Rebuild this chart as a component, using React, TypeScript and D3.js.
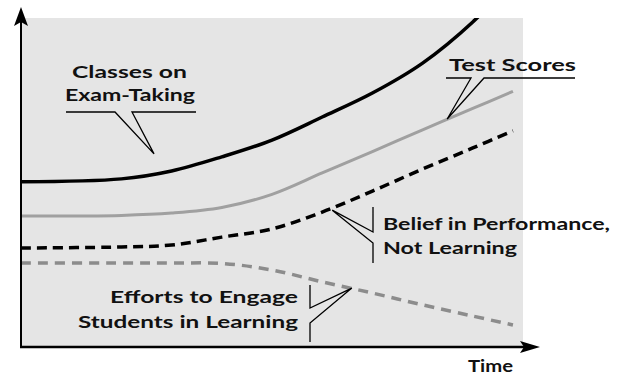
import { useEffect, useRef } from "react";
import * as d3 from "d3";

// time steps (0 = start, 100 = right edge of the shaded area)
const timeSteps = [0, 20, 30, 40, 50, 60, 70, 80, 90, 98];

const classesOnExamTaking = [50.2, 51.1, 53.5, 57.8, 62.9, 69.9, 77.2, 86.3, 98.8, 111.5];
const testScores = [39.8, 40.0, 40.7, 42.4, 46.4, 52.9, 59.4, 66.0, 72.5, 77.7];
const beliefInPerformance = [30.1, 30.4, 31, 33.4, 35.9, 41, 47.4, 54.1, 60.5, 65.7];
const effortsToEngage = [25.5, 25.5, 25.5, 25.4, 23.4, 19.8, 16.4, 12.8, 9.4, 6.7];

const axisLabel = "Time";

export default function App() {
  const svgRef = useRef<SVGSVGElement | null>(null);

  useEffect(() => {
    const svg = d3.select(svgRef.current);
    svg.selectAll("*").remove();

    const width = 623, height = 375;
    const left = 21, right = 523, top = 18, bottom = 347;

    const x = d3.scaleLinear().domain([0, 100]).range([left, right]);
    const y = d3.scaleLinear().domain([0, 100]).range([bottom, top]);

    svg.attr("width", width).attr("height", height);

    svg.append("rect")
      .attr("x", left).attr("y", top)
      .attr("width", right - left).attr("height", bottom - top)
      .attr("fill", "#e5e5e5");

    svg.append("clipPath").attr("id", "plot-clip")
      .append("rect")
      .attr("x", left).attr("y", top)
      .attr("width", right - left + 2).attr("height", bottom - top);

    const line = d3.line<number>()
      .x((_, i) => x(timeSteps[i]))
      .y(d => y(d))
      .curve(d3.curveCatmullRom.alpha(0.5));

    const series = [
      { values: effortsToEngage, color: "#8c8c8c", width: 3.5, dash: "10 7" },
      { values: beliefInPerformance, color: "#000", width: 3.5, dash: "10 6" },
      { values: testScores, color: "#a0a0a0", width: 3, dash: null },
      { values: classesOnExamTaking, color: "#000", width: 3.5, dash: null },
    ];

    const plot = svg.append("g").attr("clip-path", "url(#plot-clip)");
    series.forEach(s => {
      plot.append("path").datum(s.values)
        .attr("fill", "none")
        .attr("stroke", s.color)
        .attr("stroke-width", s.width)
        .attr("stroke-dasharray", s.dash)
        .attr("d", line);
    });

    // axes with arrow heads
    svg.append("line")
      .attr("x1", left).attr("y1", bottom + 1).attr("x2", left).attr("y2", 20)
      .attr("stroke", "#000").attr("stroke-width", 2);
    svg.append("line")
      .attr("x1", left - 1).attr("y1", bottom).attr("x2", 525).attr("y2", bottom)
      .attr("stroke", "#000").attr("stroke-width", 2.5);
    svg.append("path")
      .attr("d", `M${left},7 L${left + 7},26 L${left},22 L${left - 7},26 Z`)
      .attr("fill", "#000");
    svg.append("path")
      .attr("d", `M540,${bottom} L520,${bottom - 6} L524,${bottom} L520,${bottom + 6} Z`)
      .attr("fill", "#000");

    const font = "Lato, 'Open Sans', sans-serif";
    const addText = (txt: string, tx: number, ty: number, len: number, anchor = "start") => {
      svg.append("text")
        .attr("x", tx).attr("y", ty)
        .attr("text-anchor", anchor)
        .attr("font-family", font)
        .attr("font-weight", 700)
        .attr("font-size", 17.5)
        .attr("textLength", len)
        .attr("lengthAdjust", "spacingAndGlyphs")
        .attr("fill", "#111")
        .text(txt);
    };
    const leader = (d: string) => {
      svg.append("path").attr("d", d)
        .attr("fill", "none").attr("stroke", "#000").attr("stroke-width", 1.3);
    };

    addText(axisLabel, 468, 372, 45);

    // Classes on Exam-Taking
    addText("Classes on", 72, 78, 115);
    addText("Exam-Taking", 65, 101, 130);
    const c = [x(26.5), y(58.7)];
    leader(`M66,112 H115 L${c[0]},${c[1]} L132,112 H196`);

    // Test Scores
    addText("Test Scores", 449, 71, 127);
    const t = [x(84.9), y(69.3)];
    leader(`M446,78 H471 L${t[0]},${t[1]} L484,78 H575`);

    // Belief in Performance
    addText("Belief in Performance,", 383, 230, 227);
    addText("Not Learning", 383, 254, 134);
    const b = [x(62), y(41.6)];
    leader(`M373,207 V232 L${b[0]},${b[1]} L373,243 V263`);

    // Efforts to Engage
    addText("Efforts to Engage", 298, 303, 188, "end");
    addText("Students in Learning", 298, 328, 220, "end");
    const e = [x(65.9), y(17.9)];
    leader(`M310,285 V308 L${e[0]},${e[1]} L310,323 V342`);
  }, []);

  return <svg ref={svgRef} style={{ position: "absolute", left: 0, top: 0 }} />;
}
